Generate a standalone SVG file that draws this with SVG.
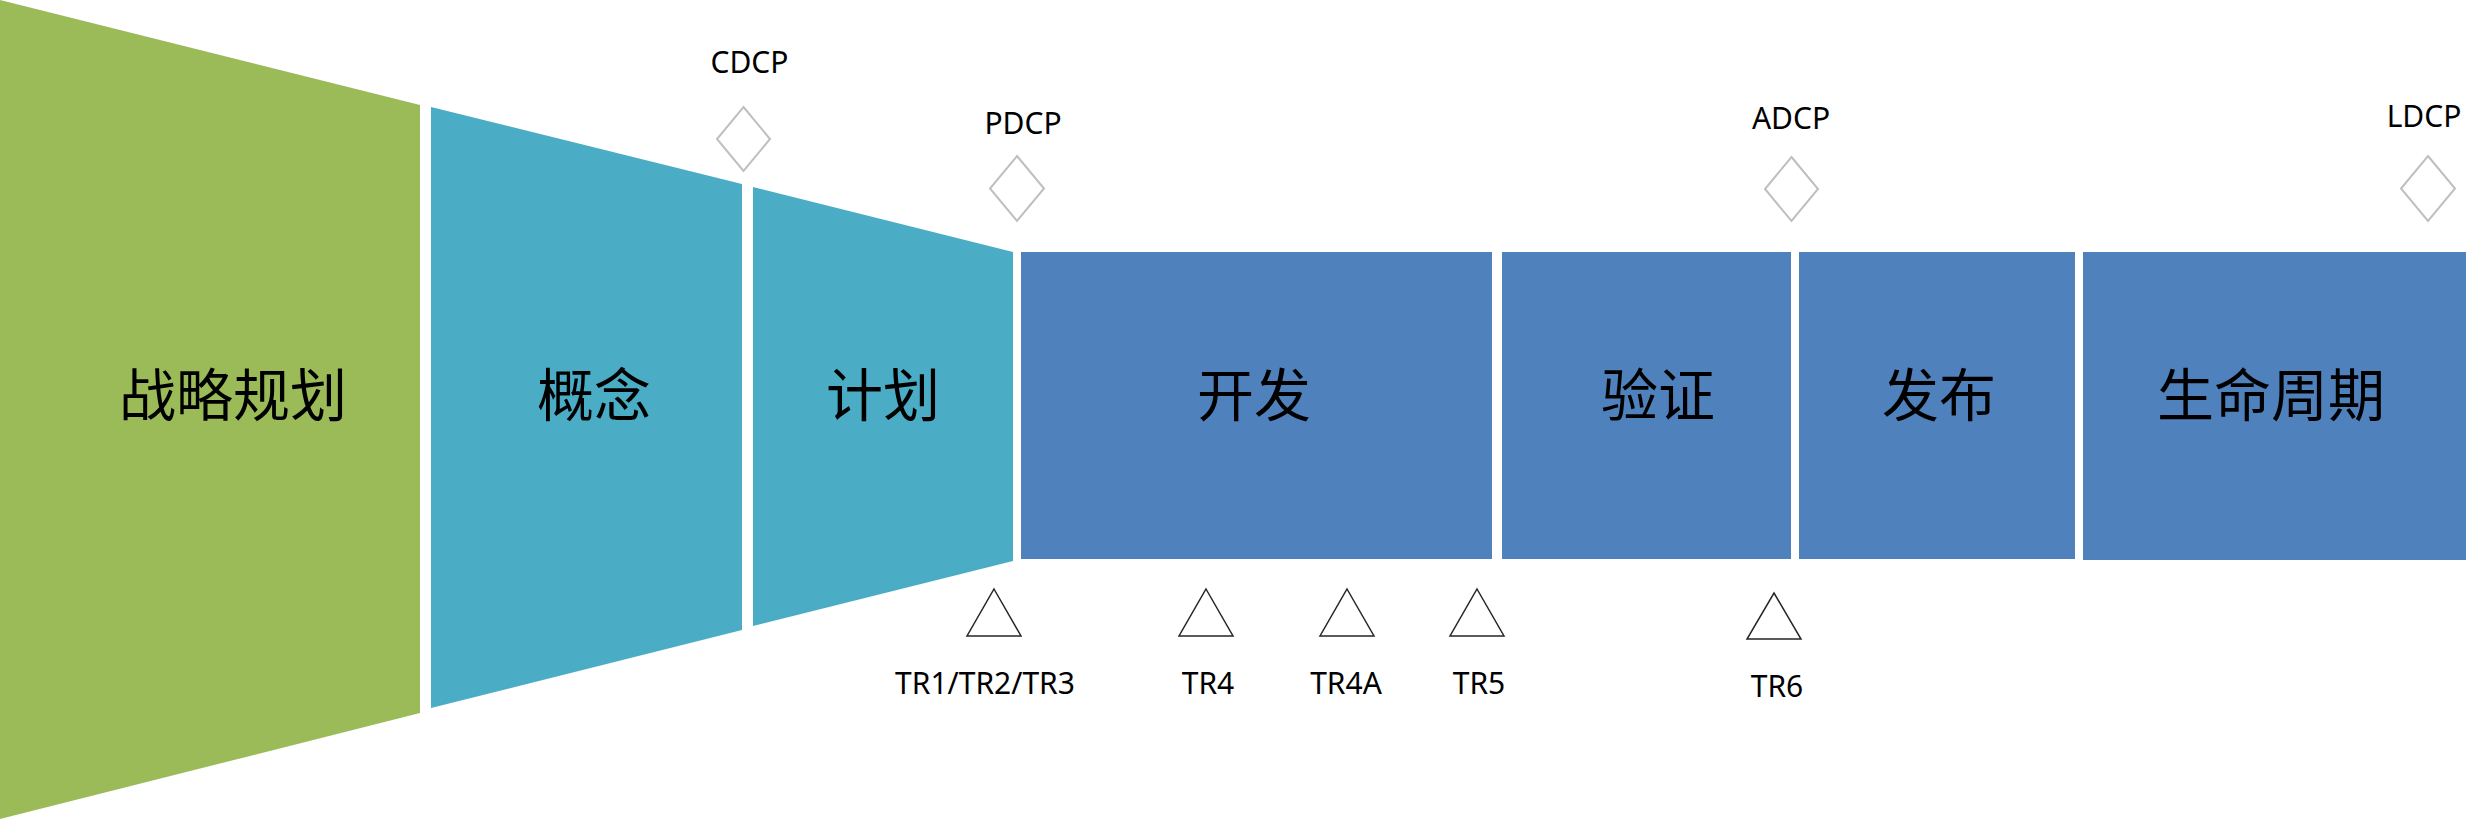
<svg xmlns="http://www.w3.org/2000/svg" width="2485" height="819" viewBox="0 0 2485 819">
<style>
.stage{font-family:"Noto Sans CJK SC","Noto Sans",sans-serif;font-size:57px;fill:#000;text-anchor:middle}
.lbl{font-family:"Noto Sans","Open Sans",sans-serif;font-size:30px;fill:#000;text-anchor:middle}
.dcp{fill:#fff;stroke:#BFBFBF;stroke-width:2}
.tr{fill:#fff;stroke:#262626;stroke-width:1.5}
</style>
<rect width="2485" height="819" fill="#fff"/>
<g id="strategy">
<polygon points="0,0 420,105 420,713 0,819" fill="#9BBB59"/>
<text class="stage" x="233" y="416">战略规划</text>
</g>
<g id="concept">
<polygon points="431,107 742,184 742,630 431,708" fill="#4BACC6"/>
<text class="stage" x="594" y="416">概念</text>
</g>
<g id="plan">
<polygon points="753,187 1013,252 1013,561 753,626" fill="#4BACC6"/>
<text class="stage" x="883" y="416">计划</text>
</g>
<g id="develop">
<rect x="1021" y="252" width="471" height="307" fill="#4F81BD"/>
<text class="stage" x="1254" y="416">开发</text>
</g>
<g id="verify">
<rect x="1502" y="252" width="289" height="307" fill="#4F81BD"/>
<text class="stage" x="1658" y="416">验证</text>
</g>
<g id="release">
<rect x="1799" y="252" width="276" height="307" fill="#4F81BD"/>
<text class="stage" x="1939" y="416">发布</text>
</g>
<g id="lifecycle">
<rect x="2083" y="252" width="383" height="308" fill="#4F81BD"/>
<text class="stage" x="2271" y="416">生命周期</text>
</g>
<g id="cdcp">
<polygon class="dcp" points="743.5,107 770,139 743.5,171 717,139"/>
<text class="lbl" x="749.5" y="73">CDCP</text>
</g>
<g id="pdcp">
<polygon class="dcp" points="1017,156 1044,188.5 1017,221 990,188.5"/>
<text class="lbl" x="1023" y="134">PDCP</text>
</g>
<g id="adcp">
<polygon class="dcp" points="1791.5,157 1818,189 1791.5,221 1765,189"/>
<text class="lbl" x="1791" y="129">ADCP</text>
</g>
<g id="ldcp">
<polygon class="dcp" points="2428,156 2455,188.5 2428,221 2401,188.5"/>
<text class="lbl" x="2424" y="127">LDCP</text>
</g>
<g id="tr123">
<polygon class="tr" points="994,589 1021,636 967,636"/>
<text class="lbl" x="985" y="694">TR1/TR2/TR3</text>
</g>
<g id="tr4">
<polygon class="tr" points="1206,589 1233,636 1179,636"/>
<text class="lbl" x="1208" y="694">TR4</text>
</g>
<g id="tr4a">
<polygon class="tr" points="1347,589 1374,636 1320,636"/>
<text class="lbl" x="1346" y="694">TR4A</text>
</g>
<g id="tr5">
<polygon class="tr" points="1477,589 1504,636 1450,636"/>
<text class="lbl" x="1479" y="694">TR5</text>
</g>
<g id="tr6">
<polygon class="tr" points="1774,593 1801,639 1747,639"/>
<text class="lbl" x="1777" y="697">TR6</text>
</g>
<g id="connectors"></g>
</svg>
